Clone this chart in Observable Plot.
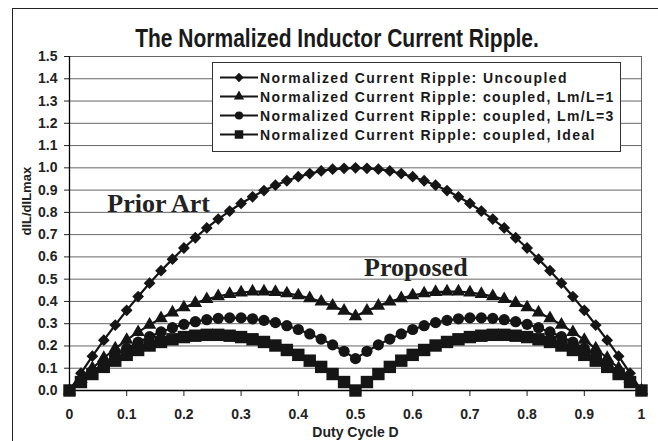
<!DOCTYPE html>
<html><head><meta charset="utf-8">
<script src="https://cdn.jsdelivr.net/npm/d3@7"></script>
<script src="https://cdn.jsdelivr.net/npm/@observablehq/plot@0.6"></script>
<style>
body{margin:0;background:#fff;overflow:hidden;}
#wrap{position:relative;width:658px;height:441px;overflow:hidden;background:#fff;}
#wrap > svg{position:absolute;left:0;top:0;}
#border{position:absolute;left:12px;top:8px;width:800px;height:600px;border:1px solid #222;pointer-events:none;}
#title{position:absolute;left:337px;top:24px;transform:translateX(-50%) scaleX(0.84);transform-origin:center;white-space:nowrap;font:bold 25px "Liberation Sans",Arial,sans-serif;line-height:normal;color:#1a1a1a;}
#legend{position:absolute;left:212px;top:62px;width:409px;height:90px;box-sizing:border-box;border:1px solid #333;background:#fff;padding:5px 0 0 6px;font:bold 14px "Liberation Sans",Arial,sans-serif;letter-spacing:1.4px;color:#1a1a1a;}
.row{height:19px;display:flex;align-items:center;white-space:nowrap;}
.row svg{flex:none;margin-right:1px;}
</style></head><body><div id="wrap"><div id="border"></div></div>
<script>
const duty = [0,0.02,0.04,0.06,0.08,0.10,0.12,0.14,0.16,0.18,0.20,0.22,0.24,0.26,0.28,0.30,0.32,0.34,0.36,0.38,0.40,0.42,0.44,0.46,0.48,0.50,0.52,0.54,0.56,0.58,0.60,0.62,0.64,0.66,0.68,0.70,0.72,0.74,0.76,0.78,0.80,0.82,0.84,0.86,0.88,0.90,0.92,0.94,0.96,0.98,1.00];
const uncoupled = [0,.078,.154,.226,.294,.360,.422,.482,.538,.590,.640,.686,.730,.770,.806,.840,.870,.898,.922,.942,.960,.974,.986,.994,.998,1.000,.998,.994,.986,.974,.960,.942,.922,.898,.870,.840,.806,.770,.730,.686,.640,.590,.538,.482,.422,.360,.294,.226,.154,.078,0];
const coupledLm1 = [0,.052,.100,.146,.188,.227,.262,.295,.324,.350,.373,.393,.410,.423,.433,.440,.444,.444,.442,.436,.427,.414,.399,.380,.358,.333,.358,.380,.399,.414,.427,.436,.442,.444,.444,.440,.433,.423,.410,.393,.373,.350,.324,.295,.262,.227,.188,.146,.100,.052,0];
const coupledLm3 = [0,.044,.085,.123,.157,.189,.217,.242,.263,.282,.297,.309,.318,.324,.326,.326,.322,.315,.305,.291,.274,.254,.231,.205,.176,.143,.176,.205,.231,.254,.274,.291,.305,.315,.322,.326,.326,.324,.318,.309,.297,.282,.263,.242,.217,.189,.157,.123,.085,.044,0];
const coupledIdeal = [0,.038,.074,.106,.134,.160,.182,.202,.218,.230,.240,.246,.250,.250,.246,.240,.230,.218,.202,.182,.160,.134,.106,.074,.038,0,.038,.074,.106,.134,.160,.182,.202,.218,.230,.240,.246,.250,.250,.246,.240,.230,.218,.202,.182,.160,.134,.106,.074,.038,0];
const seriesNames = ["Normalized Current Ripple: Uncoupled","Normalized Current Ripple: coupled, Lm/L=1","Normalized Current Ripple: coupled, Lm/L=3","Normalized Current Ripple: coupled, Ideal"];
const seriesSymbols = ["diamond2","triangle","circle","square"];
const xTicks = [0,0.1,0.2,0.3,0.4,0.5,0.6,0.7,0.8,0.9,1];
const yTicks = [0,0.1,0.2,0.3,0.4,0.5,0.6,0.7,0.8,0.9,1.0,1.1,1.2,1.3,1.4,1.5];
const annotationLabels = ["Prior Art","Proposed"];
const annotationX = [0.066,0.515];
const annotationY = [0.80,0.516];
const titleText = "The Normalized Inductor Current Ripple.";
const xLabel = "Duty Cycle D";
const yLabel = "dIL/dILmax";

const valueSets = [uncoupled, coupledLm1, coupledLm3, coupledIdeal];
const rows = valueSets.flatMap((vals, i) => vals.map((v, j) => ({series: seriesNames[i], x: duty[j], y: v})));
const annotations = annotationLabels.map((t, i) => ({label: t, x: annotationX[i], y: annotationY[i]}));
const markR = [5.3, 5.0, 5.6, 7.0];
const ink = "#151515";

const seriesMarks = seriesNames.flatMap((name, i) => {
  const d = rows.filter(r => r.series === name);
  return [
    Plot.line(d, {x: "x", y: "y", stroke: ink, strokeWidth: 2.2}),
    Plot.dot(d, {x: "x", y: "y", symbol: seriesSymbols[i], r: markR[i], fill: ink, stroke: "none"})
  ];
});

const chart = Plot.plot({
  width: 658, height: 441,
  marginLeft: 69, marginRight: 17, marginTop: 56, marginBottom: 51,
  style: {fontFamily: '"Liberation Sans", Arial, sans-serif', fontSize: "14px", fontWeight: "bold", color: "#222", background: "transparent"},
  x: {domain: [0, 1], ticks: xTicks, tickFormat: d => (d === 0 || d === 1) ? String(d) : d.toFixed(1), tickSize: 6, tickPadding: 13, label: null},
  y: {domain: [0, 1.5], ticks: yTicks, tickFormat: d => d.toFixed(1), tickSize: 5, tickPadding: 7, label: null},
  marks: [
    Plot.ruleY(yTicks.filter(t => t > 0), {stroke: "#666", strokeWidth: 1}),
    Plot.ruleX([1], {stroke: "#666", strokeWidth: 1}),
    Plot.ruleX([0], {stroke: "#000", strokeWidth: 1.3}),
    Plot.ruleY([0], {stroke: "#000", strokeWidth: 1.5}),
    ...seriesMarks,
    Plot.text(annotations, {x: "x", y: "y", text: "label", textAnchor: "start", lineAnchor: "bottom", fontFamily: '"Liberation Serif", "Times New Roman", serif', fontSize: 26, fontWeight: "bold", fill: "#222"}),
    Plot.text([yLabel], {text: d => d, frameAnchor: "left", rotate: -90, dx: -43, dy: 12, fontSize: 13, fontWeight: "bold", fill: "#222"}),
    Plot.text([xLabel], {text: d => d, frameAnchor: "bottom", dy: 42, lineAnchor: "middle", fontSize: 14, fontWeight: "bold", fill: "#222"})
  ]
});
const wrap = document.getElementById("wrap");
wrap.insertBefore(chart, wrap.firstChild);

const title = document.createElement("div");
title.id = "title";
title.textContent = titleText;
wrap.appendChild(title);

const legend = document.createElement("div");
legend.id = "legend";
seriesNames.forEach((name, i) => {
  const row = document.createElement("div");
  row.className = "row";
  const sw = d3.create("svg").attr("width", 40).attr("height", 19);
  sw.append("line").attr("x1", 1).attr("x2", 39).attr("y1", 9.5).attr("y2", 9.5).attr("stroke", ink).attr("stroke-width", 2);
  const symType = [d3.symbolDiamond2, d3.symbolTriangle, d3.symbolCircle, d3.symbolSquare][i];
  const symSize = [55, 45, 52, 72][i];
  sw.append("path").attr("d", d3.symbol(symType, symSize)()).attr("transform", "translate(20,9.5)").attr("fill", ink);
  row.appendChild(sw.node());
  const span = document.createElement("span");
  span.textContent = name;
  row.appendChild(span);
  legend.appendChild(row);
});
wrap.appendChild(legend);
</script>
</body></html>
